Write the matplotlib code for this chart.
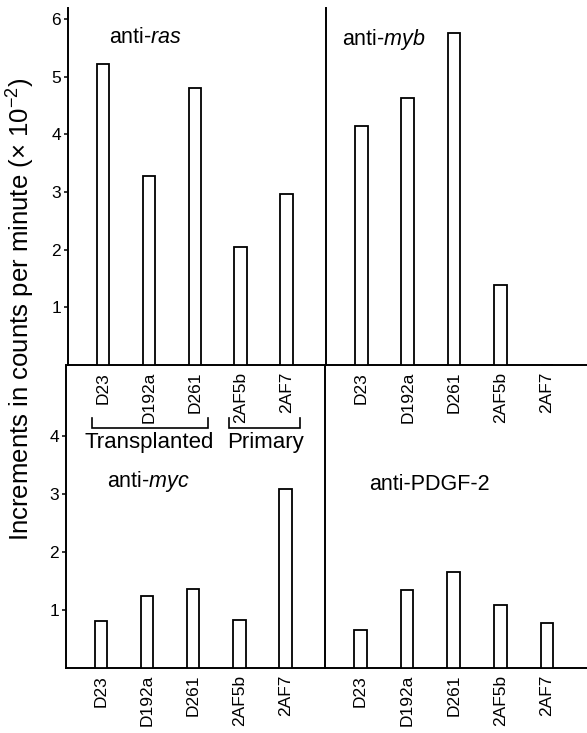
import numpy as np
import matplotlib
matplotlib.use("Agg")
import matplotlib.pyplot as plt

plt.rcParams['font.family'] = ['Liberation Sans', 'DejaVu Sans']
plt.rcParams['mathtext.fontset'] = 'custom'
plt.rcParams['mathtext.rm'] = 'Liberation Sans'
plt.rcParams['mathtext.it'] = 'Liberation Sans:italic'
plt.rcParams['mathtext.bf'] = 'Liberation Sans:bold'

# tumour lines (same order in every panel)
lines = ['D23', 'D192a', 'D261', '2AF5b', '2AF7']

# increments in counts per minute (x 10^-2)
anti_ras = [5.22, 3.28, 4.81, 2.05, 2.96]
anti_myb = [4.15, 4.63, 5.75, 1.39, 0.0]
anti_myc = [0.81, 1.24, 1.36, 0.83, 3.09]
anti_pdgf2 = [0.66, 1.34, 1.65, 1.09, 0.78]

top_ticks = [1, 2, 3, 4, 5, 6]
bottom_ticks = [1, 2, 3, 4]

W, H = 587, 733
fig = plt.figure(figsize=(W / 100, H / 100), dpi=100)


def px_axes(x0, x1, ytop, ybot):
    # axes placed by pixel box of the original figure
    return fig.add_axes([x0 / W, 1 - ybot / H, (x1 - x0) / W, (ybot - ytop) / H])


ax_tl = px_axes(68, 326, 8, 365)
ax_tr = px_axes(326, 587, 8, 365)
ax_bl = px_axes(66, 325, 365, 668)
ax_br = px_axes(325, 587, 365, 668)

x = np.arange(len(lines))
panels = [(ax_tl, anti_ras, 6.19), (ax_tr, anti_myb, 6.19),
          (ax_bl, anti_myc, 5.22), (ax_br, anti_pdgf2, 5.22)]

for ax, vals, ytop in panels:
    ax.bar(x, vals, width=0.27, facecolor='white', edgecolor='black',
           linewidth=1.3, zorder=3)
    ax.set_xlim(-0.76, 4.86)
    ax.set_ylim(0, ytop)
    ax.set_xticks(x, lines, rotation=90, fontsize=12.5)
    ax.tick_params(axis='x', length=0, pad=5)
    for s in ax.spines.values():
        s.set_linewidth(1.4)
    ax.spines['top'].set_visible(False)
    ax.patch.set_alpha(0)

# left panels carry the y axis and the dividing line
for ax, ticks in [(ax_tl, top_ticks), (ax_bl, bottom_ticks)]:
    ax.set_yticks(ticks)
    ax.tick_params(axis='y', length=3, width=1.1, pad=2, labelsize=12.5)

for ax in (ax_tr, ax_br):
    ax.spines['left'].set_visible(False)
    ax.spines['right'].set_visible(False)
    ax.set_yticks([])

# panel titles
ax_tl.text(0.13, 5.58, r'anti-$\mathit{ras}$', fontsize=15.5)
ax_tr.text(-0.41, 5.55, r'anti-$\mathit{myb}$', fontsize=15.5)
ax_bl.text(0.13, 3.12, r'anti-$\mathit{myc}$', fontsize=15.5)
ax_br.text(0.18, 3.07, 'anti-PDGF-2', fontsize=15.5)

# group brackets below the top row labels
for xa, xb, label, xc in [(-0.19, 2.32, 'Transplanted', 1.05),
                          (2.77, 4.31, 'Primary', 3.56)]:
    ax_bl.plot([xa, xa, xb, xb], [4.31, 4.14, 4.14, 4.31], color='black',
               linewidth=1.2, solid_joinstyle='miter')
    ax_bl.text(xc, 3.79, label, fontsize=16, ha='center', va='baseline')

fig.text(21 / W, 1 - 309 / H, 'Increments in counts per minute (× 10$^{-2}$)',
         rotation=90, ha='center', va='center', fontsize=18.5)

fig.savefig('out.png', dpi=100)
